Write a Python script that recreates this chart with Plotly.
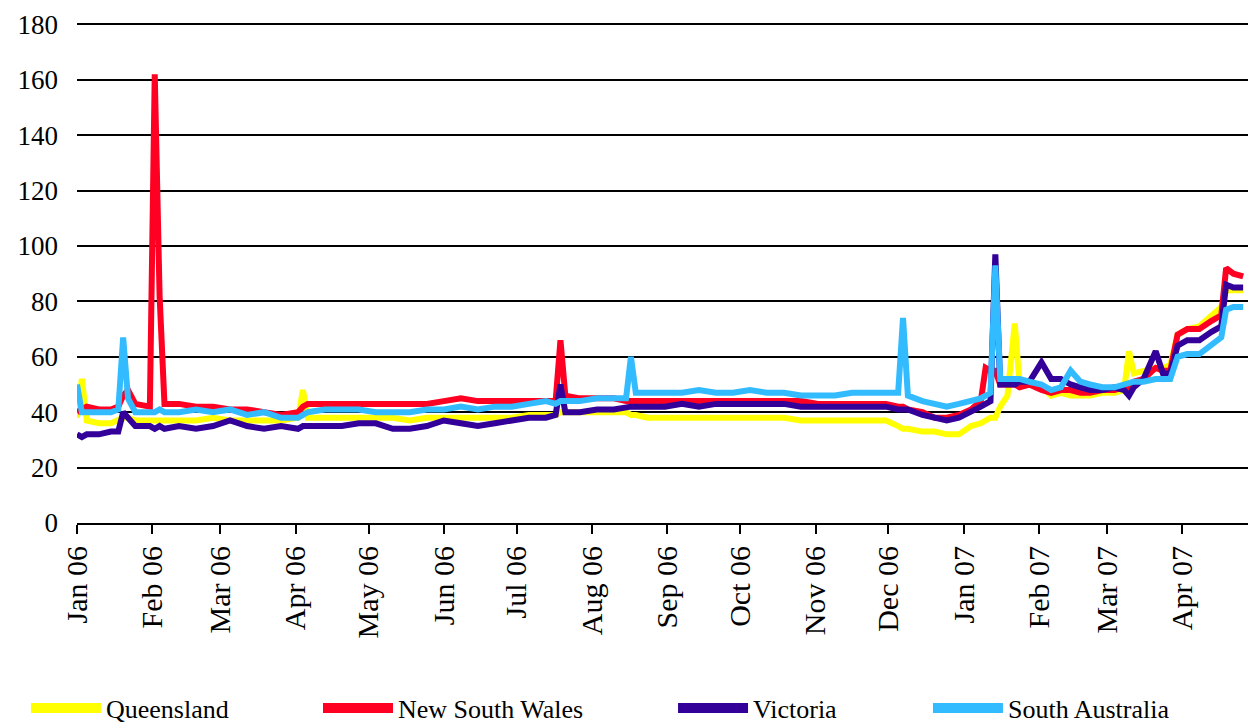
import plotly.graph_objects as go

dates = [
    "2006-01-01", "2006-01-03", "2006-01-05", "2006-01-10", "2006-01-15",
    "2006-01-18", "2006-01-20", "2006-01-22", "2006-01-25", "2006-01-31",
    "2006-02-02", "2006-02-04", "2006-02-06", "2006-02-12", "2006-02-19",
    "2006-02-26", "2006-03-05", "2006-03-12", "2006-03-19", "2006-03-26",
    "2006-04-02", "2006-04-04", "2006-04-06", "2006-04-13", "2006-04-20",
    "2006-04-27", "2006-05-04", "2006-05-11", "2006-05-18", "2006-05-25",
    "2006-06-01", "2006-06-08", "2006-06-15", "2006-06-22", "2006-06-29",
    "2006-07-06", "2006-07-13", "2006-07-17", "2006-07-19", "2006-07-21",
    "2006-07-27", "2006-08-03", "2006-08-10", "2006-08-15", "2006-08-17",
    "2006-08-19", "2006-08-24", "2006-08-31", "2006-09-07", "2006-09-14",
    "2006-09-21", "2006-09-28", "2006-10-05", "2006-10-12", "2006-10-19",
    "2006-10-26", "2006-11-02", "2006-11-09", "2006-11-16", "2006-11-23",
    "2006-11-30", "2006-12-05", "2006-12-07", "2006-12-09", "2006-12-15",
    "2006-12-20", "2006-12-25", "2006-12-30", "2007-01-04", "2007-01-08",
    "2007-01-10", "2007-01-12", "2007-01-14", "2007-01-16", "2007-01-19",
    "2007-01-22", "2007-01-24", "2007-01-28", "2007-02-02", "2007-02-06",
    "2007-02-10", "2007-02-14", "2007-02-18", "2007-02-22", "2007-02-27",
    "2007-03-04", "2007-03-08", "2007-03-10", "2007-03-12", "2007-03-16",
    "2007-03-21", "2007-03-24", "2007-03-27", "2007-03-30", "2007-04-03",
    "2007-04-08", "2007-04-13", "2007-04-17", "2007-04-19", "2007-04-22",
    "2007-04-26",
]

queensland = [
    38, 52, 37, 36, 36, 37, 38, 38, 37, 37,
    37, 37, 37, 37, 37, 38, 37, 37, 37, 37,
    38, 48, 38, 38, 38, 38, 38, 38, 37, 38,
    38, 38, 38, 38, 38, 39, 39, 39, 40, 40,
    40, 40, 40, 40, 39, 39, 38, 38, 38, 38,
    38, 38, 38, 38, 38, 37, 37, 37, 37, 37,
    37, 35, 34, 34, 33, 33, 32, 32, 35, 36,
    37, 38, 38, 42, 46, 72, 50, 50, 49, 46,
    47, 46, 46, 46, 47, 47, 48, 62, 54, 55,
    56, 56, 57, 68, 70, 71, 75, 78, 84, 84, 84,
]

new_south_wales = [
    40, 41, 42, 41, 41, 42, 46, 48, 43, 42,
    162, 82, 43, 43, 42, 42, 41, 41, 40, 39,
    40, 42, 43, 43, 43, 43, 43, 43, 43, 43,
    44, 45, 44, 44, 44, 44, 44, 44, 66, 46,
    45, 45, 45, 44, 44, 44, 44, 44, 44, 44,
    44, 44, 44, 44, 44, 44, 43, 43, 43, 43,
    43, 42, 42, 41, 40, 38, 38, 39, 41, 44,
    56, 55, 55, 50, 50, 50, 49, 50, 48, 47,
    48, 48, 47, 47, 48, 48, 49, 49, 51, 52,
    56, 55, 55, 68, 70, 70, 73, 75, 92, 90, 89,
]

victoria = [
    32, 31, 32, 32, 33, 33, 40, 38, 35, 35,
    34, 35, 34, 35, 34, 35, 37, 35, 34, 35,
    34, 35, 35, 35, 35, 36, 36, 34, 34, 35,
    37, 36, 35, 36, 37, 38, 38, 39, 50, 40,
    40, 41, 41, 42, 42, 42, 42, 42, 43, 42,
    43, 43, 43, 43, 43, 42, 42, 42, 42, 42,
    42, 41, 41, 41, 39, 38, 37, 38, 40, 42,
    43, 44, 97, 50, 50, 50, 51, 51, 58, 52,
    52, 50, 49, 48, 48, 49, 48, 46, 49, 52,
    62, 54, 54, 64, 66, 66, 69, 71, 86, 85, 85,
]

south_australia = [
    50, 40, 40, 40, 40, 41, 67, 45, 40, 40,
    40, 41, 40, 40, 41, 40, 41, 39, 40, 38,
    38, 39, 40, 41, 41, 41, 40, 40, 40, 41,
    41, 42, 41, 42, 42, 43, 44, 43, 44, 44,
    44, 45, 45, 45, 60, 47, 47, 47, 47, 48,
    47, 47, 48, 47, 47, 46, 46, 46, 47, 47,
    47, 47, 74, 46, 44, 43, 42, 43, 44, 45,
    46, 47, 93, 52, 52, 52, 52, 51, 50, 48,
    49, 55, 51, 50, 49, 49, 50, 50, 51, 51,
    52, 52, 52, 60, 61, 61, 64, 67, 77, 78, 78,
]

series_names = ["Queensland", "New South Wales", "Victoria", "South Australia"]
series_values = [queensland, new_south_wales, victoria, south_australia]
series_colors = ["#FFFF00", "#FF0022", "#330099", "#33BBFF"]
legend_ids = ["legend", "legend2", "legend3", "legend4"]
legend_x = [-0.0436, 0.2058, 0.509, 0.7267]

FONT = "Times New Roman, Liberation Serif, DejaVu Serif, serif"

fig = go.Figure()
for name, vals, color in zip(series_names, series_values, series_colors):
    fig.add_trace(go.Scatter(
        x=dates, y=vals, mode="lines", name=name,
        line=dict(color=color, width=6), showlegend=False,
    ))
for name, color, lid in zip(series_names, series_colors, legend_ids):
    fig.add_trace(go.Scatter(
        x=[None], y=[None], mode="lines", name=name,
        line=dict(color=color, width=10), legend=lid, showlegend=True,
    ))

legend_common = dict(
    y=-0.37, yanchor="middle", xanchor="left", orientation="h",
    font=dict(family=FONT, size=26, color="black"),
    itemwidth=70, bgcolor="rgba(0,0,0,0)",
)

layout_legends = {}
for lid, lx in zip(legend_ids, legend_x):
    layout_legends[lid] = dict(x=lx, **legend_common)

fig.update_layout(
    width=1251, height=723,
    template="none",
    paper_bgcolor="white", plot_bgcolor="white",
    margin=dict(l=77, r=3, t=23, b=200, autoexpand=False),
    font=dict(family=FONT, color="black"),
    xaxis=dict(
        type="date",
        range=["2006-01-01", "2007-04-28"],
        tick0="2006-01-01", dtick="M1", tickformat="%b %y",
        tickangle=-90, ticks="outside", ticklen=9, tickwidth=2, tickcolor="black",
        showline=True, linecolor="black", linewidth=2,
        showgrid=False, zeroline=False,
        tickfont=dict(family=FONT, size=30, color="black"),
    ),
    yaxis=dict(
        range=[0, 180.5], dtick=20, tick0=0,
        showgrid=True, gridcolor="black", gridwidth=2,
        zeroline=False, showline=False, ticks="",
        ticklabelstandoff=18,
        tickfont=dict(family=FONT, size=27, color="black"),
    ),
    **layout_legends,
)

fig.write_html(
    "out.html",
    config={"displayModeBar": False},
    post_script="document.body.style.margin='0';document.body.style.overflow='hidden';",
)
